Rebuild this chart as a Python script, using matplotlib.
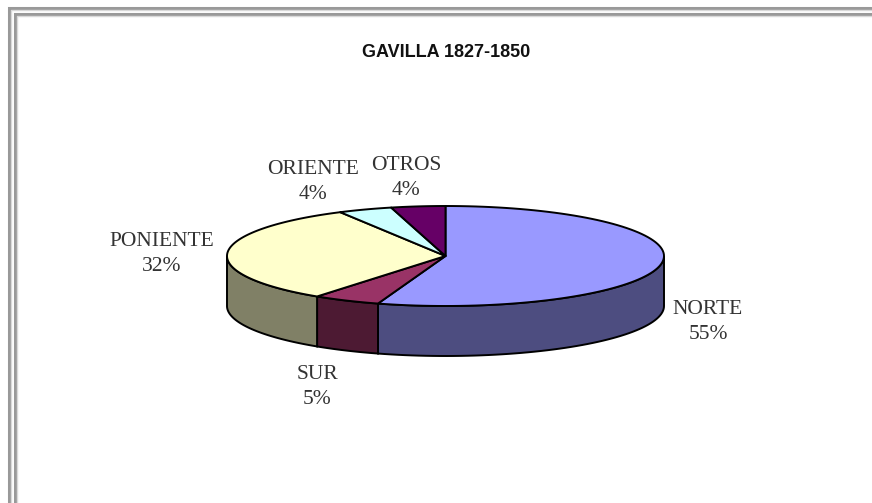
import numpy as np
import matplotlib
matplotlib.use("Agg")
import matplotlib.pyplot as plt
from matplotlib.patches import Polygon

## DONNEES
labels = ["NORTE", "SUR", "PONIENTE", "ORIENTE", "OTROS"]
values = [55, 5, 32, 4, 4]
title = "GAVILLA 1827-1850"

## STYLE
top_colors = ["#9999FF", "#993366", "#FFFFCC", "#CCFFFF", "#660066"]
side_colors = ["#4D4D80", "#4D1A33", "#808066", "#668080", "#330033"]
label_pos = [(708, 322), (317, 387), (162, 254), (313, 182), (406, 178)]
cx, cy, rx, ry, depth = 445.5, 256, 218.5, 50, 50
text_col = "#333333"


def point(a):
    # a : angle en degres, sens horaire depuis le haut
    r = np.radians(a)
    return np.column_stack((cx + rx * np.sin(r), cy - ry * np.cos(r)))


fig = plt.figure(figsize=(8.72, 5.03), dpi=100)
ax = fig.add_axes([0, 0, 1, 1])
ax.set_xlim(0, 872)
ax.set_ylim(503, 0)
ax.axis("off")

# double cadre gris, haut et gauche seulement
for x0, y0 in [(9, 8), (14.5, 13.5)]:
    ax.plot([x0, x0, 872], [503, y0, y0], color="#999999", lw=2.2, solid_joinstyle="miter")
    ax.plot([x0 + 2, x0 + 2, 872], [503, y0 + 2, y0 + 2], color="#D9D9D9", lw=1)

bounds = np.concatenate(([0], np.cumsum(values))) / sum(values) * 360

# parois avant de la tranche
for i in range(len(values)):
    a0, a1 = max(bounds[i], 90), min(bounds[i + 1], 270)
    if a0 >= a1:
        continue
    rim = point(np.linspace(a0, a1, 60))
    low = rim[::-1] + [0, depth]
    ax.add_patch(Polygon(np.vstack((rim, low)), closed=True, fc=side_colors[i], ec="black", lw=1.4))

# dessus
for i in range(len(values)):
    rim = point(np.linspace(bounds[i], bounds[i + 1], 100))
    ax.add_patch(Polygon(np.vstack(([[cx, cy]], rim)), closed=True, fc=top_colors[i], ec="black", lw=1.4, joinstyle="round"))

for name, v, (x, y) in zip(labels, values, label_pos):
    ax.text(x, y, name + "\n" + str(v) + "%", ha="center", va="center", family="Liberation Serif",
            fontsize=15.5, color=text_col, linespacing=1.42)

ax.text(446, 52, title, ha="center", va="center", family="Liberation Sans", fontweight="bold", fontsize=13, color="#111111")

fig.savefig("out.png", dpi=100)
